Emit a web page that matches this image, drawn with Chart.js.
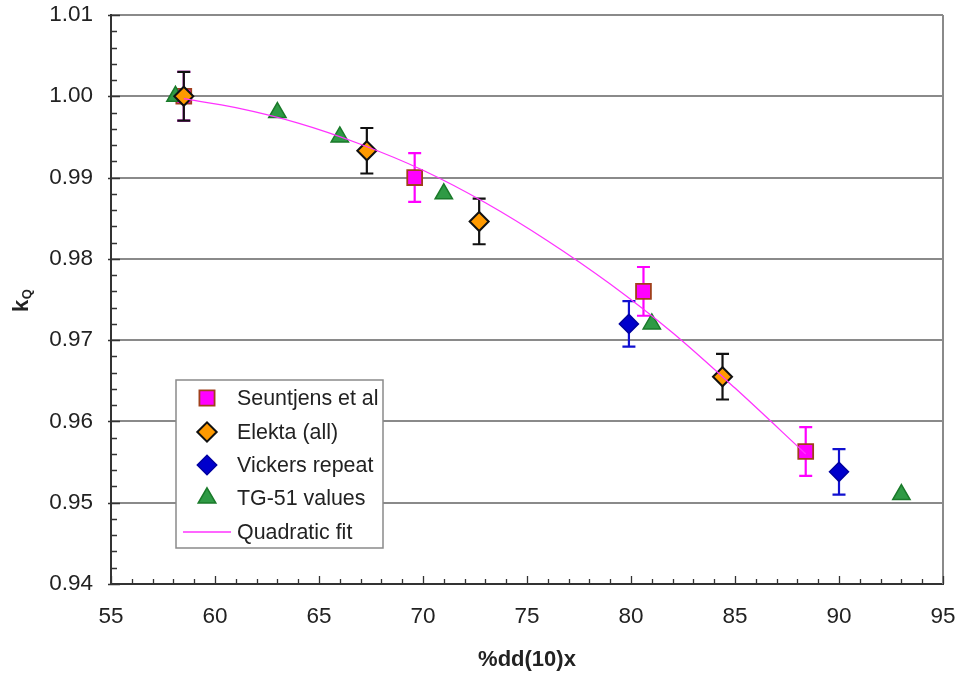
<!DOCTYPE html>
<html>
<head>
<meta charset="utf-8">
<title>kQ versus %dd(10)x</title>
<script src="https://cdn.jsdelivr.net/npm/chart.js@4/dist/chart.umd.min.js"></script>
<style>
  html, body { margin: 0; padding: 0; background: #ffffff; }
  #wrap { width: 959px; height: 674px; }
</style>
</head>
<body>
<div id="wrap"><canvas id="chart" width="959" height="674"></canvas></div>
<script>
// ---- data ----
const seuntjensX   = [58.5, 69.6, 80.6, 88.4];
const seuntjensY   = [1.000, 0.990, 0.976, 0.9563];
const seuntjensErr = [0.003, 0.003, 0.003, 0.003];

const elektaX   = [58.5, 67.3, 72.7, 84.4];
const elektaY   = [1.000, 0.9933, 0.9846, 0.9655];
const elektaErr = [0.003, 0.0028, 0.0028, 0.0028];

const vickersX   = [79.9, 90.0];
const vickersY   = [0.972, 0.9538];
const vickersErr = [0.0028, 0.0028];

const tg51X = [58.1, 63.0, 66.0, 71.0, 81.0, 93.0];
const tg51Y = [1.000, 0.998, 0.995, 0.988, 0.972, 0.951];

// quadratic fit curve, sampled along its drawn path
const fitX = [58.5, 61, 64, 67, 70, 73, 76, 79, 82, 85, 88.4];
const fitY = [0.9997, 0.9986, 0.9967, 0.9941, 0.9909, 0.9869, 0.9822, 0.9769, 0.9709, 0.9641, 0.9560];

const seriesNames = ['Seuntjens et al', 'Elekta (all)', 'Vickers repeat', 'TG-51 values', 'Quadratic fit'];
const xTitle = '%dd(10)x';

const xMin = 55, xMax = 95, xStep = 5, xMinorStep = 1;
const yMin = 0.94, yMax = 1.01, yStep = 0.01, yMinorStep = 0.002;

const FONT = '"Liberation Sans", Arial, Helvetica, sans-serif';

function pts(xs, ys) { return xs.map((x, i) => ({ x: x, y: ys[i] })); }

// ---- error bars drawn behind the markers ----
const errorBars = {
  id: 'errorBars',
  beforeDatasetsDraw(chart) {
    const { ctx, scales: { x, y } } = chart;
    chart.data.datasets.forEach((ds) => {
      if (!ds.errors) return;
      ctx.save();
      ctx.strokeStyle = ds.errorColor;
      ctx.lineWidth = 2.2;
      ds.data.forEach((p, i) => {
        const e = ds.errors[i];
        const px = x.getPixelForValue(p.x);
        const pTop = y.getPixelForValue(p.y + e);
        const pBot = y.getPixelForValue(p.y - e);
        const cap = 6.5;
        ctx.beginPath();
        ctx.moveTo(px, pTop); ctx.lineTo(px, pBot);
        ctx.moveTo(px - cap, pTop); ctx.lineTo(px + cap, pTop);
        ctx.moveTo(px - cap, pBot); ctx.lineTo(px + cap, pBot);
        ctx.stroke();
      });
      ctx.restore();
    });
  }
};

// ---- frame, inward tick marks, y title and legend box ----
const decorations = {
  id: 'decorations',
  afterDatasetsDraw(chart) {
    const { ctx, chartArea: a, scales: { x, y } } = chart;
    ctx.save();
    // right border of the plot area
    ctx.strokeStyle = '#8a8a8a';
    ctx.lineWidth = 2;
    ctx.beginPath();
    ctx.moveTo(a.right, a.top); ctx.lineTo(a.right, a.bottom);
    ctx.stroke();

    // inward tick marks
    ctx.strokeStyle = '#333333';
    ctx.lineWidth = 1.3;
    ctx.beginPath();
    for (let v = xMin; v <= xMax + 1e-9; v += xMinorStep) {
      const px = Math.round(x.getPixelForValue(v)) + 0.5;
      const major = Math.abs(v / xStep - Math.round(v / xStep)) < 1e-6;
      ctx.moveTo(px, a.bottom);
      ctx.lineTo(px, a.bottom - (major ? 8 : 5));
    }
    const nY = Math.round((yMax - yMin) / yMinorStep);
    for (let k = 0; k <= nY; k++) {
      const v = yMin + k * yMinorStep;
      const py = Math.round(y.getPixelForValue(v)) + 0.5;
      const major = k % 5 === 0;
      ctx.moveTo(a.left - (major ? 3 : 0), py);
      ctx.lineTo(a.left + (major ? 9 : 6), py);
    }
    ctx.stroke();

    // y-axis title: k with subscript Q, rotated
    ctx.save();
    ctx.translate(28, 312);
    ctx.rotate(-Math.PI / 2);
    ctx.fillStyle = '#222222';
    ctx.textBaseline = 'alphabetic';
    ctx.textAlign = 'left';
    ctx.font = 'bold 22px ' + FONT;
    ctx.fillText('k', 0, 0);
    const kw = ctx.measureText('k').width;
    ctx.font = 'bold 13px ' + FONT;
    ctx.fillText('Q', kw + 0.5, 3);
    ctx.restore();

    // legend
    const lx = 176, ly = 380, lw = 207, lh = 168;
    ctx.fillStyle = '#ffffff';
    ctx.fillRect(lx, ly, lw, lh);
    ctx.strokeStyle = '#8a8a8a';
    ctx.lineWidth = 1.5;
    ctx.strokeRect(lx, ly, lw, lh);
    const rowY = [398, 432, 465, 498, 532];
    const mx = 207, tx = 237;
    chart.data.datasets.forEach((ds, i) => {
      const cy = rowY[i];
      if (ds.legendLine) {
        ctx.strokeStyle = ds.borderColor;
        ctx.lineWidth = ds.borderWidth;
        ctx.beginPath();
        ctx.moveTo(183, cy); ctx.lineTo(231, cy);
        ctx.stroke();
      } else {
        ctx.fillStyle = ds.pointBackgroundColor;
        ctx.strokeStyle = ds.pointBorderColor;
        ctx.lineWidth = ds.pointBorderWidth;
        Chart.helpers.drawPoint(ctx, {
          pointStyle: ds.pointStyle,
          radius: ds.pointRadius * 1.02,
          rotation: 0,
          borderWidth: ds.pointBorderWidth
        }, mx, cy);
      }
      ctx.fillStyle = '#222222';
      ctx.font = '21.4px ' + FONT;
      ctx.textAlign = 'left';
      ctx.textBaseline = 'middle';
      ctx.fillText(ds.label, tx, cy + 1);
    });
    ctx.restore();
  }
};

const chart = new Chart(document.getElementById('chart'), {
  type: 'scatter',
  data: {
    datasets: [
      {
        label: seriesNames[0],
        data: pts(seuntjensX, seuntjensY),
        errors: seuntjensErr,
        errorColor: '#ff00ff',
        pointStyle: 'rect',
        pointRadius: 10.5,
        pointBackgroundColor: '#ff00ff',
        pointBorderColor: '#a0401c',
        pointBorderWidth: 1.8,
        order: 4
      },
      {
        label: seriesNames[1],
        data: pts(elektaX, elektaY),
        errors: elektaErr,
        errorColor: '#111111',
        pointStyle: 'rectRot',
        pointRadius: 9.5,
        pointBackgroundColor: '#ff9a00',
        pointBorderColor: '#111111',
        pointBorderWidth: 2,
        order: 1
      },
      {
        label: seriesNames[2],
        data: pts(vickersX, vickersY),
        errors: vickersErr,
        errorColor: '#1010d0',
        pointStyle: 'rectRot',
        pointRadius: 9.5,
        pointBackgroundColor: '#0000cc',
        pointBorderColor: '#0000a0',
        pointBorderWidth: 1.5,
        order: 2
      },
      {
        label: seriesNames[3],
        data: pts(tg51X, tg51Y),
        pointStyle: 'triangle',
        pointRadius: 10,
        pointBackgroundColor: '#2f9a45',
        pointBorderColor: '#1a7a2a',
        pointBorderWidth: 1.5,
        order: 3
      },
      {
        label: seriesNames[4],
        data: pts(fitX, fitY),
        showLine: true,
        legendLine: true,
        borderColor: '#ff33ff',
        borderWidth: 1.3,
        pointRadius: 0,
        cubicInterpolationMode: 'monotone',
        order: 0
      }
    ]
  },
  options: {
    responsive: false,
    animation: false,
    events: [],
    layout: { padding: { left: 0, right: 16, top: 15, bottom: 0 } },
    plugins: {
      legend: { display: false },
      tooltip: { enabled: false },
      title: { display: false }
    },
    scales: {
      x: {
        type: 'linear',
        min: xMin, max: xMax,
        afterFit(scale) {
          scale.height = 90;
          scale.paddingLeft = 0;
          scale.paddingRight = 0;
        },
        ticks: {
          stepSize: xStep,
          color: '#222222',
          padding: 19,
          font: { family: FONT, size: 22.5 }
        },
        grid: { drawOnChartArea: false, drawTicks: false },
        border: { display: true, color: '#333333', width: 2 },
        title: {
          display: true,
          text: xTitle,
          color: '#222222',
          font: { family: FONT, size: 22, weight: 'bold' },
          padding: { top: 0, bottom: 1 }
        }
      },
      y: {
        type: 'linear',
        min: yMin, max: yMax,
        afterFit(scale) {
          scale.width = 111;
          scale.paddingTop = 0;
          scale.paddingBottom = 0;
        },
        ticks: {
          stepSize: yStep,
          color: '#222222',
          padding: 18,
          font: { family: FONT, size: 22.5 },
          callback: (v) => Number(v).toFixed(2)
        },
        grid: { color: '#8a8a8a', lineWidth: 2, drawTicks: false },
        border: { display: true, color: '#333333', width: 2 }
      }
    }
  },
  plugins: [errorBars, decorations]
});
</script>
</body>
</html>
